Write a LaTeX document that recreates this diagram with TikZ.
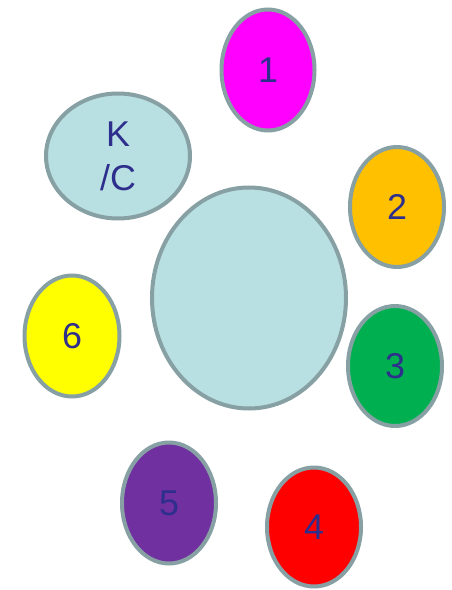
\documentclass[tikz,border=0pt]{standalone}
\usepackage{fontspec}
\setmainfont{Liberation Sans}
\usetikzlibrary{shapes.geometric}
\definecolor{rim}{RGB}{135,160,164}
\definecolor{txt}{RGB}{46,46,140}
\definecolor{lblue}{RGB}{184,223,226}
\definecolor{mgnt}{RGB}{255,0,255}
\definecolor{ylw}{RGB}{255,255,0}
\definecolor{rd}{RGB}{255,0,0}
\definecolor{orng}{RGB}{255,192,0}
\definecolor{grn}{RGB}{0,176,80}
\definecolor{purp}{RGB}{112,48,160}
\tikzset{
  blob/.style={ellipse, draw=rim, line width=4bp, inner sep=0pt, text=txt,
    font=\fontsize{36}{44}\selectfont, align=center},
}
\begin{document}
\begin{tikzpicture}[x=1bp,y=-1bp]
\useasboundingbox (0,0) rectangle (452,590);
\node[blob, fill=lblue, minimum width=194bp, minimum height=221bp] (c) at (249,298) {};
\node[blob, fill=mgnt, minimum width=93bp, minimum height=121bp] (n1) at (268,70) {1};
\node[blob, fill=lblue, minimum width=144bp, minimum height=125bp] (kc) at (118,156) {K\\/C};
\node[blob, fill=orng, minimum width=94bp, minimum height=120bp] (n2) at (397,207) {2};
\node[blob, fill=grn, minimum width=94bp, minimum height=120bp] (n3) at (395,366) {3};
\node[blob, fill=rd, minimum width=94bp, minimum height=119bp] (n4) at (314,527) {4};
\node[blob, fill=purp, minimum width=94bp, minimum height=121bp] (n5) at (169,503) {5};
\node[blob, fill=ylw, minimum width=95bp, minimum height=121bp] (n6) at (72,336) {6};
\end{tikzpicture}
\end{document}
